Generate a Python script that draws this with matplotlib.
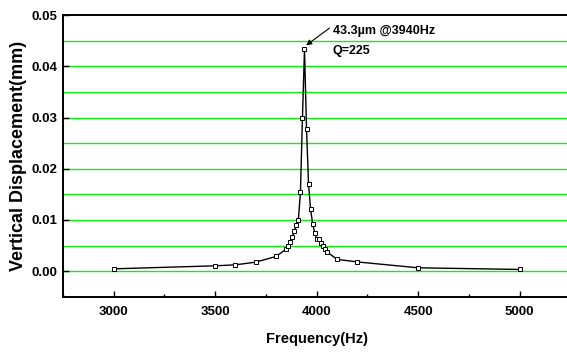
import numpy as np
import matplotlib
matplotlib.use("Agg")
import matplotlib.pyplot as plt
from matplotlib.ticker import MultipleLocator

plt.rcParams['font.family'] = ['Liberation Sans', 'DejaVu Sans']

# frequency (Hz) and vertical displacement (mm)
freq = [3000, 3500, 3600, 3700, 3800, 3850, 3860, 3870, 3880, 3890, 3900, 3910,
        3920, 3930, 3940, 3950, 3960, 3970, 3980, 3990, 4000, 4010, 4020, 4030,
        4040, 4050, 4100, 4200, 4500, 5000]
disp = [0.00045, 0.00104, 0.00123, 0.00176, 0.00287, 0.0043, 0.0049, 0.0057,
        0.0066, 0.0079, 0.0090, 0.0100, 0.0154, 0.0300, 0.0433, 0.0278, 0.0170,
        0.0121, 0.0093, 0.0075, 0.0063, 0.0062, 0.0055, 0.0049, 0.0044, 0.0038,
        0.0023, 0.0018, 0.00065, 0.00033]

xticks = [3000, 3500, 4000, 4500, 5000]
yticks = [0.00, 0.01, 0.02, 0.03, 0.04, 0.05]
grid_levels = [0.000, 0.005, 0.010, 0.015, 0.020, 0.025, 0.030, 0.035, 0.040, 0.045]

fig = plt.figure(figsize=(5.67, 3.52), dpi=100)
ax = fig.add_axes([0.111, 0.157, 0.895, 0.800])

# green horizontal lines
for g in grid_levels:
    ax.axhline(g, color='#11ee11', lw=1.0, zorder=1)

ax.plot(freq, disp, '-s', color='black', lw=1.0, ms=3, mfc='white', mec='black',
        mew=0.7, zorder=3)

ax.set_xlim(2750, 5250)
ax.set_ylim(-0.005, 0.05)
ax.set_xticks(xticks)
ax.xaxis.set_minor_locator(MultipleLocator(250))
ax.set_yticks(yticks)
ax.set_yticklabels(['%.2f' % v for v in yticks])

for s in ['left', 'bottom', 'top']:
    ax.spines[s].set_linewidth(1.4)
ax.spines['right'].set_visible(False)

ax.tick_params(which='major', direction='in', length=4, width=1.0, labelsize=9.5)
ax.tick_params(axis='x', which='major', pad=7)
ax.tick_params(axis='y', which='major', pad=4)
ax.tick_params(which='minor', direction='in', length=2.5, width=1.0)
for lbl in ax.get_xticklabels() + ax.get_yticklabels():
    lbl.set_fontweight('bold')

ax.set_xlabel('Frequency(Hz)', fontsize=10.5, fontweight='bold', labelpad=10)
ax.set_ylabel('Vertical Displacement(mm)', fontsize=13, fontweight='bold', labelpad=3)

# peak annotation
ax.text(4079, 0.0469, '43.3\u00b5m @3940Hz', fontsize=9, fontweight='bold',
        ha='left', va='center')
ax.text(4079, 0.04297, 'Q=225', fontsize=9, fontweight='bold', ha='left', va='center')
ax.annotate('', xy=(3948, 0.0441), xytext=(4063, 0.04746),
            arrowprops=dict(arrowstyle='-|>', color='black', lw=0.8,
                            mutation_scale=8, shrinkA=0, shrinkB=0))

fig.savefig('out.png', dpi=100)
